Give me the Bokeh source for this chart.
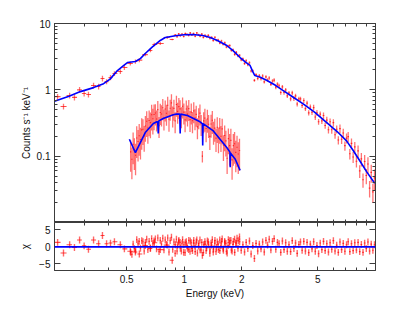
import numpy as np
from bokeh.plotting import figure
from bokeh.layouts import column
from bokeh.models import (Range1d, FixedTicker, LogAxis, LinearAxis, Span,
                          CustomJSTickFormatter)
from bokeh.embed import file_html
from bokeh.resources import INLINE

# ---------------- data ----------------
# upper (broad-band) spectrum: energy (keV), rate, relative error, residual
top_e = [0.218, 0.234, 0.252, 0.267, 0.284, 0.300, 0.316, 0.336, 0.357, 0.374,
         0.393, 0.412, 0.432, 0.464, 0.487, 0.523, 0.556, 0.583, 0.626, 0.666,
         0.698, 0.750, 0.815, 0.866,
         0.900, 0.918, 0.936, 0.955, 0.974, 0.994, 1.014, 1.034, 1.055, 1.076,
         1.097, 1.119, 1.142, 1.164, 1.188, 1.211, 1.236, 1.260, 1.285, 1.311,
         1.337, 1.364, 1.391, 1.419, 1.448, 1.477, 1.506, 1.536, 1.567, 1.598,
         1.630, 1.663, 1.696, 1.730, 1.765, 1.800, 1.836, 1.873, 1.910, 1.948,
         1.987, 2.027, 2.068, 2.109, 2.151, 2.194, 2.238, 2.283, 2.329, 2.375,
         2.423, 2.471, 2.521, 2.571, 2.622, 2.675, 2.728, 2.783, 2.839, 2.895,
         2.953, 3.012, 3.073, 3.134, 3.197, 3.261, 3.326, 3.392, 3.460, 3.529,
         3.600, 3.672, 3.745, 3.820, 3.897, 3.975, 4.054, 4.135, 4.218, 4.302,
         4.388, 4.476, 4.566, 4.657, 4.750, 4.845, 4.942, 5.041, 5.142, 5.244,
         5.349, 5.456, 5.565, 5.677, 5.790, 5.906, 6.024, 6.145, 6.268, 6.393,
         6.521, 6.651, 6.784, 6.920, 7.058, 7.199, 7.343, 7.490, 7.640, 7.793,
         7.949, 8.108, 8.270, 8.435, 8.604, 8.776, 8.952, 9.131, 9.314, 9.500,
         9.690, 9.884]
top_rate = [0.79, 0.56, 0.82, 0.77, 1.00, 0.88, 0.85, 1.16, 1.12, 1.48,
            1.33, 1.53, 1.76, 1.89, 2.17, 2.50, 2.67, 2.80, 3.40, 3.92,
            4.82, 5.00, 6.15, 5.74,
            6.69, 6.31, 6.97, 6.57, 6.91, 6.36, 7.04, 6.85, 6.61, 7.22,
            6.70, 7.08, 6.45, 7.21, 6.75, 6.45, 6.92, 6.18, 6.66, 6.31,
            6.62, 6.00, 6.17, 5.55, 6.20, 5.57, 5.65, 5.06, 5.45, 4.86,
            5.11, 4.42, 4.58, 4.65, 3.93, 4.02, 3.43, 3.67, 3.24, 3.33,
            2.83, 2.93, 2.50, 2.75, 2.39, 2.56, 1.92, 1.93, 1.39, 1.70,
            1.48, 1.63, 1.47, 1.62, 1.32, 1.57, 1.41, 1.51, 1.21, 1.36,
            1.40, 1.10, 1.22, 1.15, 0.91, 1.11, 0.91, 1.00, 0.81, 0.90,
            0.73, 0.90, 0.74, 0.81, 0.61, 0.73, 0.73, 0.58, 0.69, 0.52,
            0.63, 0.45, 0.55, 0.46, 0.54, 0.39, 0.45, 0.33, 0.43, 0.34,
            0.41, 0.29, 0.35, 0.25, 0.33, 0.25, 0.32, 0.21, 0.255, 0.175,
            0.26, 0.18, 0.224, 0.144, 0.187, 0.197, 0.109, 0.156, 0.097, 0.138,
            0.084, 0.12, 0.060, 0.091, 0.044, 0.083, 0.051, 0.076, 0.033, 0.057,
            0.029, 0.047]
top_relerr = [0.10, 0.10, 0.10, 0.10, 0.10, 0.10, 0.10, 0.10, 0.10, 0.10,
              0.09, 0.09, 0.08, 0.08, 0.08, 0.07, 0.07, 0.07, 0.06, 0.06,
              0.06, 0.05, 0.05, 0.03,
              0.035, 0.035, 0.035, 0.035, 0.035, 0.035, 0.035, 0.035, 0.035, 0.035,
              0.035, 0.035, 0.035, 0.035, 0.035, 0.035, 0.035, 0.035, 0.035, 0.035,
              0.04, 0.04, 0.04, 0.04, 0.04, 0.04, 0.04, 0.04, 0.04, 0.04,
              0.045, 0.045, 0.045, 0.045, 0.045, 0.045, 0.045, 0.045, 0.045, 0.045,
              0.05, 0.05, 0.05, 0.05, 0.05, 0.05, 0.05, 0.05, 0.05, 0.05,
              0.06, 0.06, 0.06, 0.06, 0.06, 0.06, 0.06, 0.06, 0.06, 0.06,
              0.07, 0.07, 0.07, 0.07, 0.07, 0.07, 0.07, 0.07, 0.07, 0.07,
              0.08, 0.08, 0.08, 0.08, 0.08, 0.08, 0.08, 0.08, 0.08, 0.08,
              0.09, 0.09, 0.09, 0.09, 0.10, 0.10, 0.10, 0.10, 0.10, 0.10,
              0.11, 0.11, 0.12, 0.12, 0.12, 0.13, 0.13, 0.13, 0.14, 0.14,
              0.15, 0.15, 0.16, 0.16, 0.17, 0.17, 0.18, 0.18, 0.19, 0.19,
              0.20, 0.21, 0.22, 0.23, 0.24, 0.25, 0.26, 0.27, 0.28, 0.30,
              0.32, 0.34]
top_chi = [1.3, -1.8, 0.6, -0.2, 2.0, 0.3, -0.7, 2.0, 0.9, 3.3,
           0.9, 1.1, 1.5, 0.6, -0.6, -1.3, -1.5, -2.1, 0.4, -0.5,
           1.2, -0.8, 0.5, -3.9,
           0.6, -1.2, 1.5, -0.4, 0.9, -1.6, 1.2, 0.3, -0.8, 1.7,
           -0.5, 1.1, -1.4, 2.0, 0.2, -0.9, 1.3, -1.7, 0.8, -0.3,
           1.4, -0.7, 0.5, -1.5, 1.9, -0.2, 0.8, -1.1, 1.6, -0.6,
           1.2, -1.3, 0.4, 1.8, -0.9, 0.7, -1.6, 1.1, -0.4, 1.5,
           -1.0, 0.6, -1.5, 1.3, -0.5, 1.7, -2.1, 0.4, -3.4, 1.0,
           -1.2, 0.8, -0.6, 1.4, -1.5, 1.9, 0.5, 2.2, -0.9, 1.6,
           2.4, -0.7, 1.3, 0.9, -1.6, 1.7, -0.8, 1.2, -1.3, 0.6,
           -1.4, 1.8, -0.5, 1.1, -1.9, 0.7, 1.4, -1.0, 1.6, -1.2,
           1.3, -1.7, 0.8, -0.6, 1.5, -1.3, 0.4, -2.0, 1.1, -0.8,
           1.6, -1.1, 0.9, -1.5, 1.2, -0.7, 1.8, -1.2, 0.5, -1.6,
           1.4, -0.8, 1.0, -1.3, 0.6, 1.5, -1.4, 0.9, -1.1, 1.2,
           -0.9, 1.3, -1.4, 0.7, -1.6, 1.1, -0.5, 1.4, -1.2, 0.8,
           -1.0, 0.6]
top_model_e = [0.21, 0.25, 0.287, 0.336, 0.379, 0.41, 0.448, 0.48, 0.505, 0.556,
               0.59, 0.626, 0.68, 0.75, 0.796, 0.9, 1.0, 1.11, 1.25, 1.37,
               1.5, 1.67, 1.8, 1.96, 2.1, 2.21, 2.28, 2.34, 2.5, 2.71,
               3.0, 3.28, 3.7, 4.17, 4.8, 5.56, 6.3, 7.06, 7.6, 8.26,
               9.0, 9.9]
top_model = [0.67, 0.80, 0.94, 1.08, 1.24, 1.45, 1.95, 2.30, 2.58, 2.67,
             2.95, 3.53, 4.40, 5.55, 6.15, 6.55, 6.75, 6.82, 6.60, 6.15,
             5.50, 4.66, 3.90, 3.07, 2.60, 2.33, 1.90, 1.64, 1.55, 1.38,
             1.17, 0.98, 0.78, 0.62, 0.46, 0.32, 0.235, 0.17, 0.125, 0.086,
             0.058, 0.039]

# lower (narrow-band) spectrum
bot_e = [0.525, 0.533, 0.541, 0.549, 0.557, 0.565, 0.574, 0.582, 0.591, 0.600,
         0.609, 0.618, 0.627, 0.637, 0.646, 0.656, 0.666, 0.676, 0.686, 0.696,
         0.707, 0.717, 0.728, 0.739, 0.750, 0.761, 0.773, 0.784, 0.796, 0.808,
         0.820, 0.833, 0.845, 0.858, 0.871, 0.884, 0.897, 0.911, 0.924, 0.938,
         0.952, 0.967, 0.981, 0.996, 1.011, 1.026, 1.041, 1.057, 1.073, 1.089,
         1.105, 1.122, 1.139, 1.156, 1.173, 1.191, 1.209, 1.227, 1.245, 1.264,
         1.283, 1.302, 1.322, 1.342, 1.362, 1.382, 1.403, 1.424, 1.445, 1.467,
         1.489, 1.511, 1.534, 1.557, 1.580, 1.604, 1.628, 1.652, 1.677, 1.702,
         1.728, 1.754, 1.780, 1.807, 1.834, 1.861, 1.889, 1.917, 1.946]
bot_rate = [0.116, 0.090, 0.151, 0.124, 0.103, 0.188, 0.166, 0.203, 0.178, 0.249,
            0.254, 0.201, 0.285, 0.336, 0.266, 0.345, 0.320, 0.420, 0.366, 0.425,
            0.448, 0.363, 0.503, 0.289, 0.455, 0.432, 0.537, 0.375, 0.513, 0.443,
            0.585, 0.360, 0.527, 0.636, 0.415, 0.525, 0.340, 0.602, 0.473, 0.559,
            0.516, 0.404, 0.567, 0.462, 0.353, 0.513, 0.431, 0.520, 0.356, 0.462,
            0.342, 0.481, 0.378, 0.426, 0.276, 0.391, 0.446, 0.309, 0.100, 0.341,
            0.375, 0.261, 0.364, 0.303, 0.199, 0.306, 0.347, 0.240, 0.265, 0.187,
            0.273, 0.190, 0.266, 0.200, 0.258, 0.146, 0.205, 0.170, 0.093, 0.184,
            0.144, 0.173, 0.088, 0.144, 0.154, 0.114, 0.136, 0.108, 0.122]
bot_relerr = [0.50, 0.50, 0.50, 0.50, 0.50, 0.50, 0.50, 0.50, 0.50, 0.50,
              0.42, 0.42, 0.42, 0.42, 0.42, 0.42, 0.42, 0.42, 0.42, 0.42,
              0.35, 0.35, 0.35, 0.35, 0.35, 0.35, 0.35, 0.35, 0.35, 0.35,
              0.35, 0.35, 0.35, 0.35, 0.35, 0.35, 0.35, 0.35, 0.35, 0.35,
              0.35, 0.35, 0.35, 0.35, 0.35, 0.35, 0.35, 0.35, 0.35, 0.35,
              0.35, 0.35, 0.35, 0.35, 0.35, 0.35, 0.35, 0.35, 0.20, 0.35,
              0.38, 0.38, 0.38, 0.38, 0.38, 0.38, 0.38, 0.38, 0.38, 0.38,
              0.42, 0.42, 0.42, 0.42, 0.42, 0.42, 0.42, 0.42, 0.42, 0.42,
              0.50, 0.50, 0.50, 0.50, 0.50, 0.50, 0.50, 0.50, 0.50]
bot_chi = [-1.6, -2.2, 0.8, -0.5, -1.0, 2.1, 0.9, 1.6, -0.4, 1.8,
           1.5, -1.2, 1.3, 2.2, -0.8, 1.6, -0.3, 2.4, 0.9, 1.7,
           2.3, -0.6, 2.6, -1.4, 1.9, 0.8, 2.5, -0.9, 2.0, 0.7,
           2.6, -1.5, 1.8, 2.8, -0.7, 1.4, -1.9, 2.2, 0.5, 1.9,
           1.3, -1.2, 2.1, 0.6, -1.7, 1.5, -0.4, 1.9, -1.3, 1.2,
           -1.1, 1.9, 0.3, 1.4, -1.8, 0.9, 2.0, -0.9, -2.5, 0.6,
           1.5, -1.1, 1.7, 0.6, -1.9, 1.1, 2.1, -0.6, 0.9, -1.4,
           1.4, -0.8, 2.0, 0.4, 2.3, -1.0, 1.6, 1.0, -1.8, 2.1,
           0.8, 1.9, -1.2, 1.6, 2.2, 1.1, 2.5, 1.8, 2.9]
bot_model_e = [0.517, 0.556, 0.59, 0.626, 0.69, 0.72, 0.727, 0.732, 0.737, 0.777,
               0.877, 0.91, 0.948, 0.953, 0.958, 1.04, 1.21, 1.245, 1.25, 1.255,
               1.42, 1.67, 1.735, 1.74, 1.745, 1.85, 1.96]
bot_model = [0.18, 0.113, 0.16, 0.227, 0.31, 0.33, 0.33, 0.22, 0.34, 0.37,
             0.42, 0.43, 0.43, 0.22, 0.43, 0.41, 0.33, 0.31, 0.145, 0.31,
             0.24, 0.135, 0.115, 0.068, 0.112, 0.09, 0.061]

x_lim = (0.21, 10.0)
y_lim = (0.01, 10.0)
chi_lim = (-6.9, 7.1)
x_major = [0.5, 1, 2, 5]
x_minor = [0.3, 0.4, 0.6, 0.7, 0.8, 0.9, 3, 4, 6, 7, 8, 9]
y_major = [0.1, 1, 10]
y_minor = [0.02, 0.03, 0.04, 0.05, 0.06, 0.07, 0.08, 0.09,
           0.2, 0.3, 0.4, 0.5, 0.6, 0.7, 0.8, 0.9,
           2, 3, 4, 5, 6, 7, 8, 9]
chi_major = [-5, 0, 5]

# ---------------- styling ----------------
FONT = "Liberation Sans"
AX = "#3c3c3c"
RED = "#ff0000"
BLUE = "#0000ff"
W = 388


def bins(e):
    e = np.asarray(e, dtype=float)
    mid = np.sqrt(e[1:] * e[:-1])
    lo = np.concatenate([[e[0] ** 2 / mid[0]], mid])
    hi = np.concatenate([mid, [e[-1] ** 2 / mid[-1]]])
    return lo, hi


def style(ax, labels=True, maj=5, mnr=3):
    ax.axis_line_color = AX
    ax.major_tick_line_color = AX
    ax.minor_tick_line_color = AX
    ax.major_tick_in = maj
    ax.major_tick_out = 0
    ax.minor_tick_in = mnr
    ax.minor_tick_out = 0
    ax.major_label_text_font = FONT
    ax.major_label_text_color = "#111111"
    ax.major_label_text_font_size = "10px"
    ax.major_label_standoff = 4 if labels else 0
    if labels:
        ax.formatter = CustomJSTickFormatter(
            code="return tick < 0 ? '\u2212' + String(-tick) : String(tick);")
    else:
        ax.formatter = CustomJSTickFormatter(code="return '';")
    ax.axis_label_text_font = FONT
    ax.axis_label_text_font_size = "10px"
    ax.axis_label_text_font_style = "normal"
    ax.axis_label_text_color = "#111111"


def frame(p):
    p.grid.visible = False
    p.outline_line_color = AX
    p.background_fill_color = "white"
    p.border_fill_color = "white"


x_rng = Range1d(*x_lim)

# ---------------- main panel ----------------
p1 = figure(width=W, height=222, x_axis_type="log", y_axis_type="log",
            x_range=x_rng, y_range=Range1d(*y_lim),
            output_backend="svg", toolbar_location=None,
            min_border_left=54, min_border_right=13,
            min_border_top=23, min_border_bottom=0)
frame(p1)
p1.add_layout(LogAxis(), "above")
p1.add_layout(LogAxis(), "right")
for ax in p1.xaxis:
    ax.ticker = FixedTicker(ticks=x_major, minor_ticks=x_minor)
    style(ax, labels=False, maj=4, mnr=3)
for ax in p1.yaxis:
    ax.ticker = FixedTicker(ticks=y_major, minor_ticks=y_minor)
    style(ax, labels=(ax in p1.left), maj=6, mnr=3)
p1.left[0].axis_label = "Counts s\u207b\u00b9 keV\u207b\u00b9"
p1.left[0].axis_label_standoff = 2

for e, r, rel in ((top_e, top_rate, top_relerr), (bot_e, bot_rate, bot_relerr)):
    e = np.asarray(e)
    r = np.asarray(r)
    err = r * np.asarray(rel)
    lo, hi = bins(e)
    p1.segment(x0=e, y0=r - err, x1=e, y1=r + err, line_color=RED,
               line_alpha=0.55, line_width=1.3)
    p1.segment(x0=lo, y0=r, x1=hi, y1=r, line_color=RED,
               line_alpha=0.7, line_width=1.1)

p1.line(top_model_e, top_model, line_color=BLUE, line_width=1.6)
p1.line(bot_model_e, bot_model, line_color=BLUE, line_width=1.6)

# ---------------- residual panel ----------------
p2 = figure(width=W, height=79, x_axis_type="log",
            x_range=x_rng, y_range=Range1d(*chi_lim),
            output_backend="svg", toolbar_location=None,
            min_border_left=54, min_border_right=13,
            min_border_top=0, min_border_bottom=27)
frame(p2)
p2.add_layout(LogAxis(), "above")
p2.add_layout(LinearAxis(), "right")
for ax in p2.xaxis:
    ax.ticker = FixedTicker(ticks=x_major, minor_ticks=x_minor)
    style(ax, labels=(ax in p2.below), maj=4, mnr=3)
for ax in p2.yaxis:
    ax.ticker = FixedTicker(ticks=chi_major, minor_ticks=[])
    style(ax, labels=(ax in p2.left), maj=6, mnr=3)
p2.left[0].axis_label = "\u03c7"
p2.left[0].axis_label_standoff = 5
p2.below[0].axis_label = "Energy (keV)"
p2.below[0].axis_label_standoff = 2
p2.below[0].major_label_standoff = 4

for e, c in ((top_e, top_chi), (bot_e, bot_chi)):
    e = np.asarray(e)
    c = np.asarray(c)
    lo, hi = bins(e)
    p2.segment(x0=e, y0=c - 1, x1=e, y1=c + 1, line_color=RED,
               line_alpha=0.6, line_width=1.4)
    p2.segment(x0=lo, y0=c, x1=hi, y1=c, line_color=RED,
               line_alpha=0.7, line_width=1.1)

p2.add_layout(Span(location=0, dimension="width", line_color=BLUE,
                   line_width=1.8))

layout = column(p1, p2, spacing=0)
open("out.html", "w").write(file_html(layout, INLINE))
